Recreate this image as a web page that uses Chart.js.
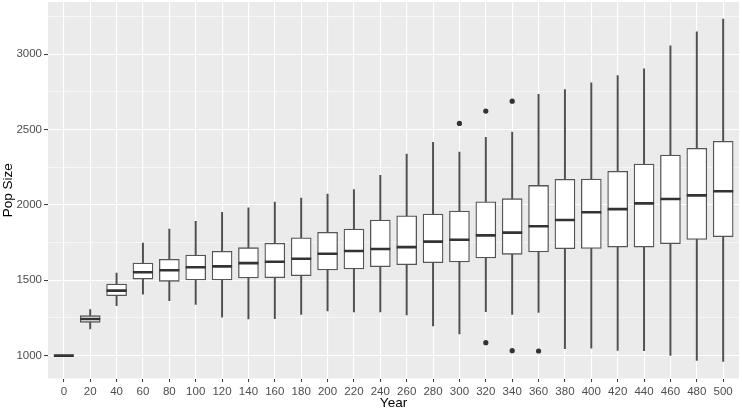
<!DOCTYPE html>
<html>
<head>
<meta charset="utf-8">
<script src="https://cdn.jsdelivr.net/npm/chart.js@4"></script>
<style>
  body { margin: 0; background: #fff; }
</style>
</head>
<body>
<canvas id="pop-box" width="742" height="410"></canvas>
<script>
    const years = [0, 20, 40, 60, 80, 100, 120, 140, 160, 180, 200, 220, 240, 260, 280, 300, 320, 340, 360, 380, 400, 420, 440, 460, 480, 500];
    const whiskerLow = [1000, 1177, 1331, 1407, 1365, 1340, 1256, 1243, 1245, 1274, 1296, 1290, 1290, 1270, 1197, 1144, 1292, 1274, 1287, 1046, 1049, 1035, 1033, 1002, 969, 962];
    const boxLow = [1000, 1221, 1398, 1508, 1493, 1502, 1502, 1515, 1517, 1530, 1568, 1575, 1590, 1603, 1617, 1621, 1648, 1672, 1688, 1709, 1711, 1720, 1720, 1743, 1771, 1789];
    const medians = [1000, 1243, 1431, 1553, 1566, 1586, 1592, 1614, 1623, 1643, 1676, 1694, 1707, 1720, 1756, 1769, 1798, 1816, 1858, 1900, 1951, 1972, 2010, 2039, 2063, 2090];
    const boxHigh = [1000, 1265, 1475, 1614, 1639, 1667, 1692, 1716, 1745, 1782, 1818, 1840, 1899, 1928, 1939, 1959, 2021, 2041, 2129, 2169, 2171, 2222, 2271, 2330, 2375, 2421];
    const whiskerHigh = [1000, 1305, 1548, 1747, 1840, 1891, 1950, 1981, 2019, 2045, 2072, 2101, 2196, 2337, 2414, 2350, 2448, 2483, 2733, 2764, 2810, 2857, 2903, 3055, 3148, 3232];
    const outlierYears = [300, 320, 320, 340, 340, 360];
    const outlierValues = [2540, 2622, 1086, 2688, 1033, 1031];
    const yTicks = [1000, 1250, 1500, 1750, 2000, 2250, 2500, 2750, 3000, 3250];

    const ink = '#333333';

    const panelBg = {
      id: 'panelBg',
      beforeDraw(chart) {
        const a = chart.chartArea;
        const c = chart.ctx;
        c.save();
        c.fillStyle = '#EBEBEB';
        c.fillRect(a.left, a.top, a.right - a.left, a.bottom - a.top);
        c.restore();
      }
    };

    const canvas = document.getElementById('pop-box');
    const ctx = canvas.getContext('2d');

    new Chart(ctx, {
      type: 'bar',
      data: {
        datasets: [
          {
            type: 'scatter',
            data: outlierYears.map((x, i) => ({ x: x, y: outlierValues[i] })),
            pointRadius: 2.6,
            pointBackgroundColor: ink,
            pointBorderWidth: 0,
            order: 1
          },
          {
            type: 'scatter',
            data: years.map((x, i) => ({ x: x, y: medians[i] })),
            pointStyle: 'line',
            pointRadius: 10,
            pointBorderColor: ink,
            pointBorderWidth: 2.6,
            order: 2
          },
          {
            data: years.map((x, i) => ({ x: x, y: [boxLow[i], boxHigh[i]] })),
            backgroundColor: '#ffffff',
            borderColor: '#555555',
            borderWidth: 1.3,
            borderSkipped: false,
            barThickness: 20,
            grouped: false,
            order: 3
          },
          {
            data: years.map((x, i) => ({ x: x, y: [whiskerLow[i], whiskerHigh[i]] })),
            backgroundColor: '#505050',
            borderWidth: 0,
            barThickness: 1.3,
            grouped: false,
            order: 4
          }
        ]
      },
      options: {
        responsive: false,
        animation: false,
        layout: { autoPadding: false, padding: { top: 2, right: 3, left: 0, bottom: 0 } },
        plugins: {
          legend: { display: false },
          tooltip: { enabled: false }
        },
        scales: {
          x: {
            type: 'linear',
            min: -12,
            max: 512,
            offset: false,
            afterBuildTicks: (scale) => { scale.ticks = years.map(v => ({ value: v })); },
            afterFit: (scale) => {
              scale.height = 31.5;
              scale.paddingLeft = 0;
              scale.paddingRight = 0;
            },
            border: { display: false },
            grid: {
              offset: false,
              color: '#ffffff',
              lineWidth: 1.1,
              tickColor: ink,
              tickLength: 3.5,
              tickWidth: 1
            },
            ticks: {
              color: '#4D4D4D',
              font: { family: 'Liberation Sans', size: 11.5 },
              padding: 2.5,
              maxRotation: 0,
              autoSkip: false,
              callback: (v) => String(v)
            },
            title: {
              display: true,
              text: 'Year',
              color: '#000000',
              font: { family: 'Liberation Sans', size: 13.5, lineHeight: 1 },
              padding: 0
            }
          },
          y: {
            min: 848.5,
            max: 3345.5,
            afterBuildTicks: (scale) => { scale.ticks = yTicks.map(v => ({ value: v })); },
            afterFit: (scale) => {
              scale.width = 48;
              scale.paddingTop = 0;
              scale.paddingBottom = 0;
            },
            border: { display: false },
            grid: {
              color: '#ffffff',
              lineWidth: (c) => (c.tick && c.tick.value % 500 === 0 ? 1.1 : 0.55),
              tickColor: (c) => (c.tick && c.tick.value % 500 === 0 ? ink : 'rgba(0,0,0,0)'),
              tickLength: 4,
              tickWidth: 1
            },
            ticks: {
              color: '#4D4D4D',
              font: { family: 'Liberation Sans', size: 11.5 },
              padding: 2,
              autoSkip: false,
              callback: (v) => (v % 500 === 0 ? String(v) : '')
            },
            title: {
              display: true,
              text: 'Pop Size',
              color: '#000000',
              font: { family: 'Liberation Sans', size: 13.5 },
              padding: 0
            }
          }
        }
      },
      plugins: [panelBg]
    });
</script>
</body>
</html>
